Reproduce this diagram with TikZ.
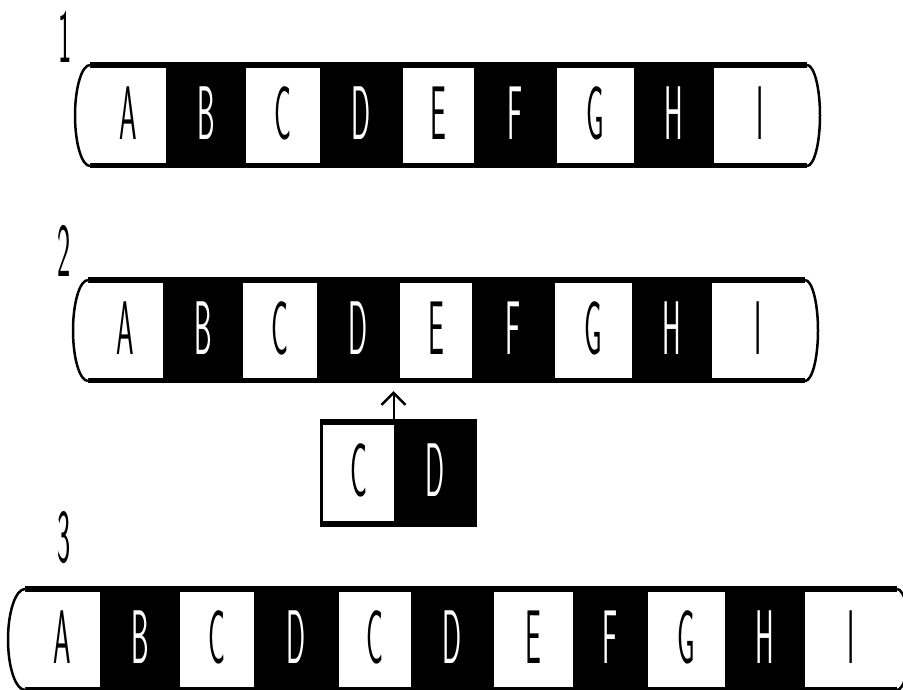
\documentclass[tikz,border=0pt]{standalone}
\usepackage{fontspec}
\usepackage{graphicx}
\usetikzlibrary{arrows.meta}
\newcommand\lt[1]{\scalebox{0.37}[1]{#1}}
\newcommand\cellnode[7]{\node[#2, minimum width={(#4-#3)*1pt}, minimum height={(#6-#5)*1pt}] (#1) at ({(#3+#4)/2},{(#5+#6)/2}) {\lt{#7}};}
% #1 x start, #2 x extreme, #3 y top, #4 y bottom
\newcommand\capfill[4]{%
  \fill[white] (#1,#3) .. controls ({#1+0.55*(#2-#1)},#3) and (#2,{#3+0.225*(#4-#3)}) .. (#2,{(#3+#4)/2}) .. controls (#2,{#4-0.225*(#4-#3)}) and ({#1+0.55*(#2-#1)},#4) .. (#1,#4) -- cycle;
  \draw[capline] (#1,#3) .. controls ({#1+0.55*(#2-#1)},#3) and (#2,{#3+0.225*(#4-#3)}) .. (#2,{(#3+#4)/2}) .. controls (#2,{#4-0.225*(#4-#3)}) and ({#1+0.55*(#2-#1)},#4) .. (#1,#4);}
\tikzset{
  wc/.style={fill=white, text=black, inner sep=0pt, outer sep=0pt, text height=53pt, text depth=6pt, font=\fontsize{76}{76}\selectfont\sffamily},
  bc/.style={wc, fill=black, text=white},
  num/.style={inner sep=0pt, outer sep=0pt, anchor=base, font=\fontsize{76}{76}\selectfont\sffamily},
  capline/.style={line width=2.5pt},
  arr/.style={line width=2pt, -{Straight Barb[length=12pt,width=24pt,line width=2.5pt]}}
}
\begin{document}
\begin{tikzpicture}[x=1pt,y=-1pt]
\useasboundingbox (0,0) rectangle (903,689);
\clip (0,0) rectangle (903,689);
\fill[white] (0,0) rectangle (903,689);

% labels
\node[num] (n1) at (65,62) {\lt{1}};
\node[num] (n2) at (64.5,276) {\lt{2}};
\node[num] (n3) at (64.5,562) {\lt{3}};

% row 1
\fill[black] (90,62) rectangle (807,168);
\cellnode{r1a}{wc}{90}{166}{68}{163}{A}
\cellnode{r1b}{bc}{166}{246}{68}{163}{B}
\cellnode{r1c}{wc}{246}{320}{68}{163}{C}
\cellnode{r1d}{bc}{320}{403}{68}{163}{D}
\cellnode{r1e}{wc}{403}{474}{68}{163}{E}
\cellnode{r1f}{bc}{474}{557}{68}{163}{F}
\cellnode{r1g}{wc}{557}{634}{68}{163}{G}
\cellnode{r1h}{bc}{634}{714}{68}{163}{H}
\cellnode{r1i}{wc}{714}{807}{68}{163}{I}
\capfill{90}{75}{65}{166}
\capfill{807}{820}{65}{166}

% row 2
\fill[black] (88,277) rectangle (805,383);
\cellnode{r2a}{wc}{88}{163}{283}{378}{A}
\cellnode{r2b}{bc}{163}{243}{283}{378}{B}
\cellnode{r2c}{wc}{243}{317}{283}{378}{C}
\cellnode{r2d}{bc}{317}{400}{283}{378}{D}
\cellnode{r2e}{wc}{400}{472}{283}{378}{E}
\cellnode{r2f}{bc}{472}{555}{283}{378}{F}
\cellnode{r2g}{wc}{555}{632}{283}{378}{G}
\cellnode{r2h}{bc}{632}{712}{283}{378}{H}
\cellnode{r2i}{wc}{712}{805}{283}{378}{I}
\capfill{88}{73}{280}{381}
\capfill{805}{818}{280}{381}

% inset
\node[fill=black, inner sep=0pt, outer sep=0pt, minimum width=157pt, minimum height=108pt] (ins) at (398.5,473) {};
\cellnode{insC}{wc}{323}{394}{425}{521}{C}
\node[wc, fill=none, text=white, minimum width=83pt, minimum height=96pt] (insD) at (435.5,473) {\lt{D}};
\coordinate (tip) at (393.5,391);
\draw[arr] (ins.north -| tip) -- (tip);

% row 3
\fill[black] (25,586) rectangle (897,692);
\cellnode{r3a}{wc}{25}{100}{592}{687}{A}
\cellnode{r3b}{bc}{100}{180}{592}{687}{B}
\cellnode{r3c}{wc}{180}{254}{592}{687}{C}
\cellnode{r3d}{bc}{254}{339}{592}{687}{D}
\cellnode{r3e}{wc}{339}{411}{592}{687}{C}
\cellnode{r3f}{bc}{411}{494}{592}{687}{D}
\cellnode{r3g}{wc}{494}{573}{592}{687}{E}
\cellnode{r3h}{bc}{573}{648}{592}{687}{F}
\cellnode{r3i}{wc}{648}{725}{592}{687}{G}
\cellnode{r3j}{bc}{725}{805}{592}{687}{H}
\cellnode{r3k}{wc}{805}{897}{592}{687}{I}
\capfill{25}{8}{589}{690}
\capfill{897}{910}{589}{690}
\end{tikzpicture}
\end{document}
